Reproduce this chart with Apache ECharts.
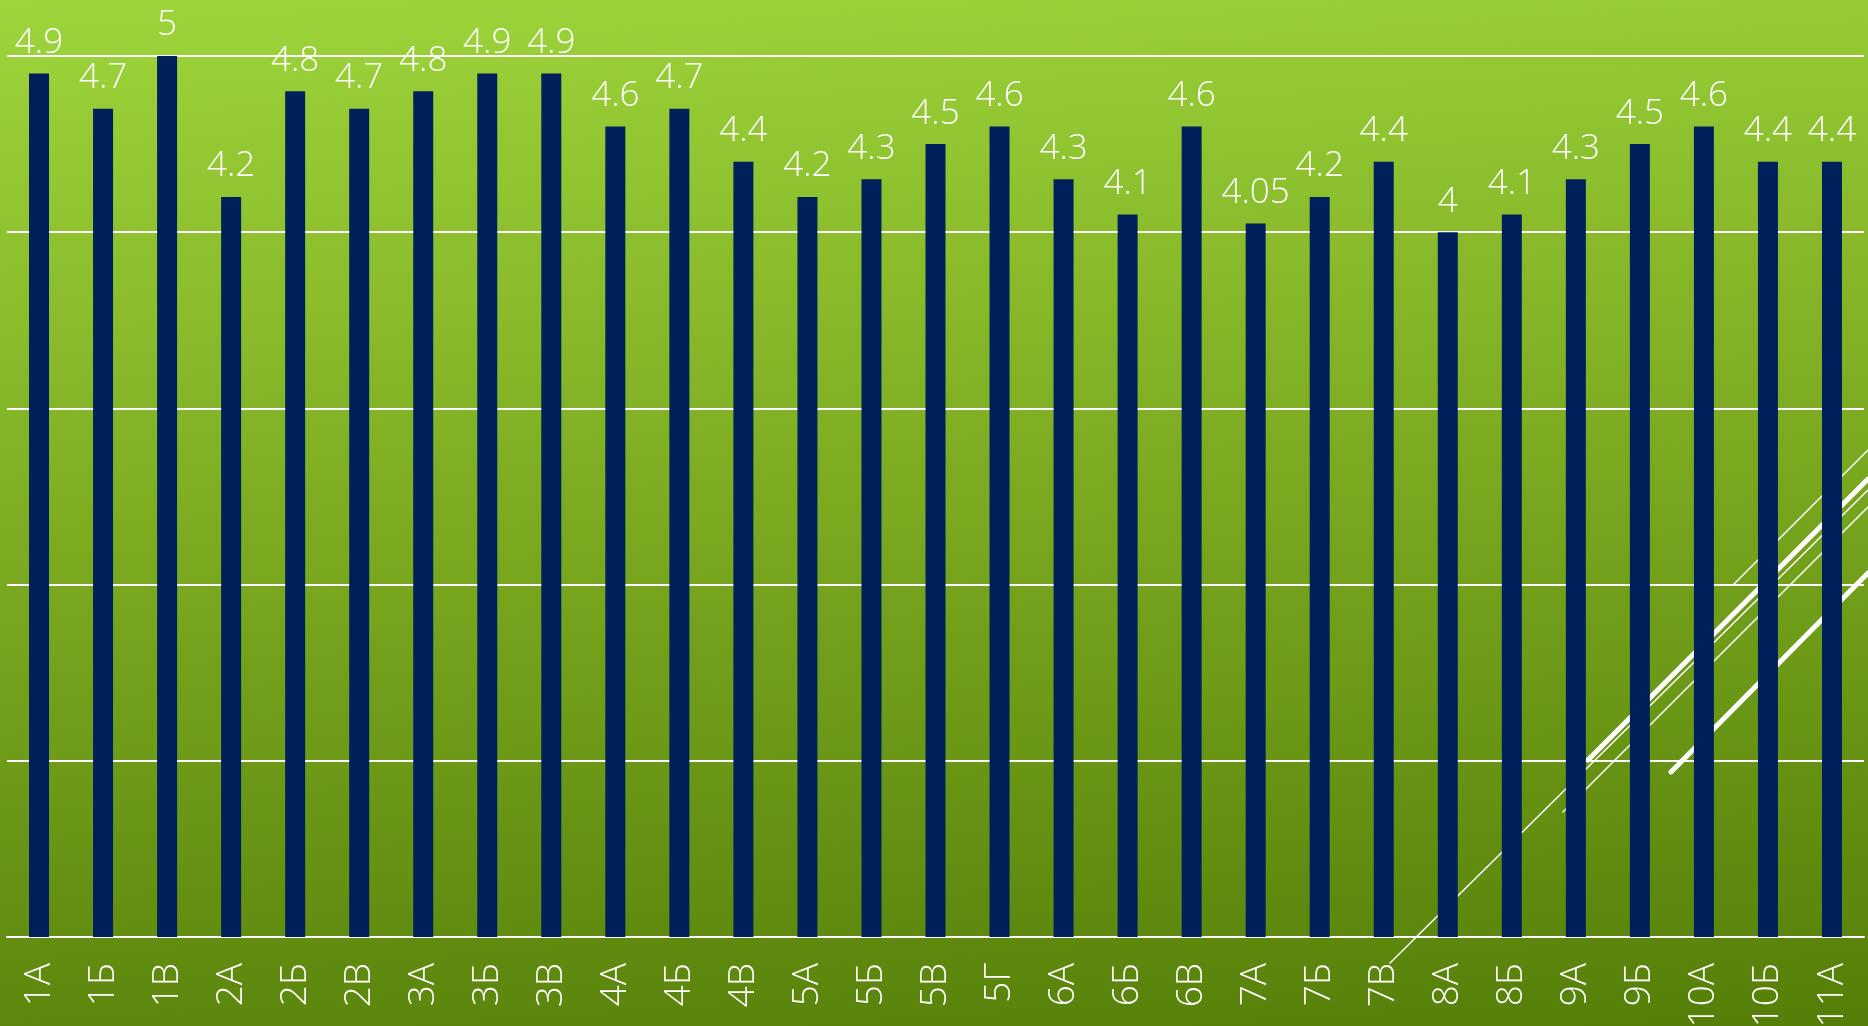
<!DOCTYPE html>
<html>
<head>
<meta charset="utf-8">
<script src="https://cdn.jsdelivr.net/npm/echarts@6/dist/echarts.min.js"></script>
<style>
  html, body { margin: 0; padding: 0; }
  #chart {
    width: 1868px;
    height: 1026px;
    background: linear-gradient(176deg, #9ed53b 0%, #79a71f 52%, #557e08 100%);
  }
</style>
</head>
<body>
<div id="chart"></div>
<script>
const classes = ["1А", "1Б", "1В", "2А", "2Б", "2В", "3А", "3Б", "3В", "4А", "4Б", "4В", "5А", "5Б", "5В", "5Г",
  "6А", "6Б", "6В", "7А", "7Б", "7В", "8А", "8Б", "9А", "9Б", "10А", "10Б", "11А"];
const scores = [4.9, 4.7, 5, 4.2, 4.8, 4.7, 4.8, 4.9, 4.9, 4.6, 4.7, 4.4, 4.2, 4.3, 4.5, 4.6,
  4.3, 4.1, 4.6, 4.05, 4.2, 4.4, 4, 4.1, 4.3, 4.5, 4.6, 4.4, 4.4];

const FONT = "'Open Sans', 'Noto Sans', sans-serif";

// decorative strokes from the slide theme (bottom right)
function deco(x1, y1, x2, y2, width) {
  return {
    type: "line",
    z: 1,
    silent: true,
    shape: { x1, y1, x2, y2 },
    style: { stroke: "#ffffff", lineWidth: width, lineCap: "round" },
  };
}

const chart = echarts.init(document.getElementById("chart"), undefined, { renderer: "canvas" });
chart.setOption({
  backgroundColor: "transparent",
  animation: false,
  grid: { left: 7, right: 4, top: 56, bottom: 89, containLabel: false, outerBoundsMode: "none" },
  graphic: [
    deco(1390, 963, 1868, 490, 1.5),
    deco(1563, 812, 1868, 507, 1.5),
    deco(1588, 760, 1868, 479, 5),
    deco(1733, 585, 1868, 450, 1.5),
    deco(1671, 772, 1868, 573, 5),
  ],
  xAxis: {
    type: "category",
    data: classes,
    axisLine: { show: true, lineStyle: { color: "#ffffff", width: 2 } },
    axisTick: { show: false },
    axisLabel: {
      rotate: 90,
      margin: 26,
      color: "#ffffff",
      fontSize: 37,
      fontFamily: FONT,
      fontWeight: 300,
      interval: 0,
    },
  },
  yAxis: {
    type: "value",
    min: 0,
    max: 5,
    interval: 1,
    axisLine: { show: false },
    axisTick: { show: false },
    axisLabel: { show: false },
    splitLine: { show: true, lineStyle: { color: "#ffffff", width: 2 } },
  },
  series: [
    {
      type: "bar",
      data: scores,
      barWidth: 20,
      z: 3,
      itemStyle: { color: "#00205b" },
      label: {
        show: true,
        position: "top",
        distance: 13,
        color: "#ffffff",
        fontSize: 35,
        fontFamily: FONT,
        fontWeight: 300,
      },
    },
  ],
});

window.addEventListener("resize", () => chart.resize());
</script>
</body>
</html>
